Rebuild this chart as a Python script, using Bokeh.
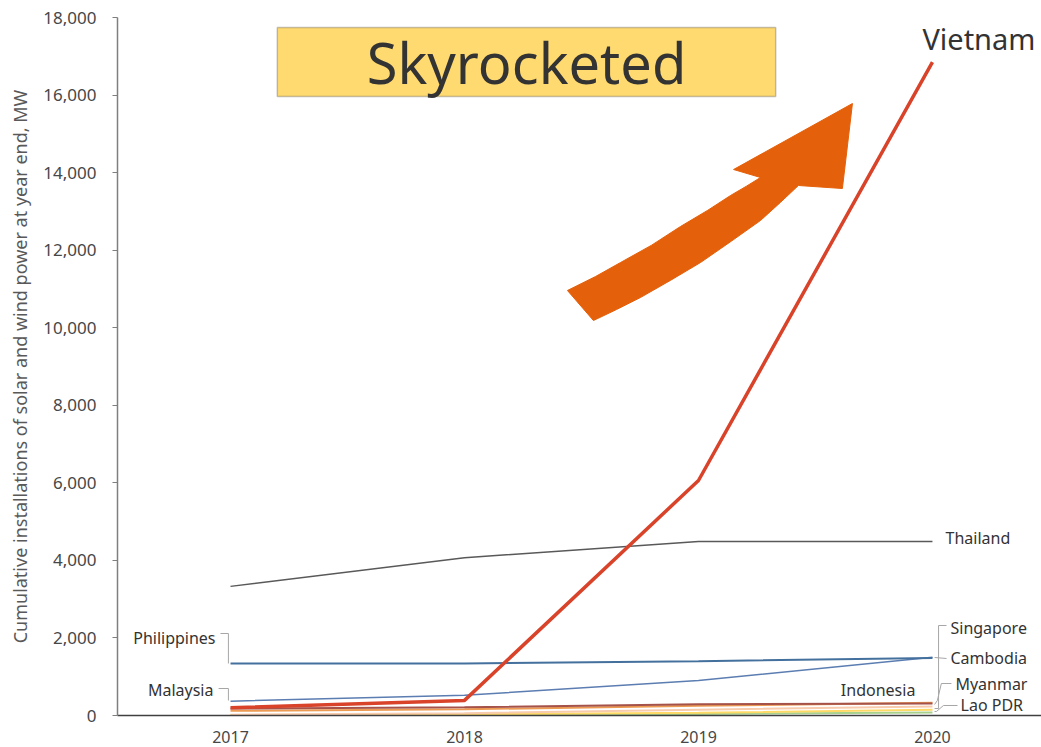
from bokeh.plotting import figure
from bokeh.models import Range1d, FixedTicker, NumeralTickFormatter, BoxAnnotation, Label, ColumnDataSource
from bokeh.core.properties import value
from bokeh.embed import file_html
from bokeh.resources import INLINE

# ---------------- data ----------------
years = [2017, 2018, 2019, 2020]
vietnam = [200, 390, 6060, 16850]
thailand = [3330, 4070, 4490, 4490]
philippines = [1340, 1340, 1400, 1480]
malaysia = [370, 520, 900, 1500]
indonesia = [180, 210, 290, 310]
singapore = [120, 160, 250, 330]
cambodia = [20, 60, 150, 230]
myanmar = [10, 30, 70, 150]
lao_pdr = [0, 10, 40, 80]

x_ticks = [2017, 2018, 2019, 2020]
y_ticks = [0, 2000, 4000, 6000, 8000, 10000, 12000, 14000, 16000, 18000]

# decorative arrow outline (data units)
arrow_x = [2018.440, 2018.560, 2018.667, 2018.800, 2018.923, 2019.040, 2019.137, 2019.205,
           2019.265, 2019.150, 2019.658, 2019.615, 2019.427, 2019.350, 2019.265, 2019.140,
           2019.009, 2018.880, 2018.752, 2018.650, 2018.551]
arrow_y = [10960, 11320, 11682, 12130, 12610, 13030, 13410, 13650,
           13874, 14080, 15782, 13590, 13668, 13230, 12765, 12230,
           11682, 11220, 10779, 10470, 10186]

# ---------------- figure ----------------
p = figure(width=1041, height=747, output_backend="svg", toolbar_location=None,
           x_range=Range1d(2016.517, 2020.466), y_range=Range1d(0, 18000),
           min_border_left=117, min_border_right=0, min_border_top=17, min_border_bottom=32)
p.outline_line_color = None
p.xgrid.visible = False
p.ygrid.visible = False
p.background_fill_color = "white"

FONT = "Noto Sans"
GREY = "#474747"

# y axis
p.yaxis.ticker = FixedTicker(ticks=y_ticks)
p.yaxis.formatter = NumeralTickFormatter(format="0,0")
p.yaxis.axis_line_color = "#7f7f7f"
p.yaxis.axis_line_width = 1.5
p.yaxis.major_tick_line_color = "#7f7f7f"
p.yaxis.major_tick_out = 5
p.yaxis.major_tick_in = 0
p.yaxis.minor_tick_line_color = None
p.yaxis.major_label_standoff = 16
p.yaxis.major_label_text_font = FONT
p.yaxis.major_label_text_font_size = "17px"
p.yaxis.major_label_text_color = GREY
p.yaxis.axis_label = "Cumulative installations of solar and wind power at year end, MW"
p.yaxis.axis_label_text_font = FONT
p.yaxis.axis_label_text_font_size = "18px"
p.yaxis.axis_label_text_font_style = "normal"
p.yaxis.axis_label_text_color = "#595959"
p.yaxis.axis_label_standoff = 8

# x axis
p.xaxis.ticker = FixedTicker(ticks=x_ticks)
p.xaxis.axis_line_color = "#404040"
p.xaxis.axis_line_width = 1.5
p.xaxis.major_tick_line_color = None
p.xaxis.minor_tick_line_color = None
p.xaxis.major_tick_out = 0
p.xaxis.major_tick_in = 0
p.xaxis.major_label_standoff = 15
p.xaxis.major_label_text_font = FONT
p.xaxis.major_label_text_font_size = "16px"
p.xaxis.major_label_text_color = GREY

# series (low ones first)
series = [
    (lao_pdr, "#A9D18E", 2),
    (myanmar, "#FFD966", 2),
    (cambodia, "#F8CBAD", 2),
    (singapore, "#ED9A52", 2),
    (indonesia, "#A5524A", 2),
    (malaysia, "#5B7DB1", 1.5),
    (philippines, "#44709D", 2),
    (thailand, "#595959", 1.5),
    (vietnam, "#D9432A", 3.5),
]
for vals, col, w in series:
    p.line(years, vals, line_color=col, line_width=w)

# arrow
p.patch(arrow_x, arrow_y, fill_color="#E5600A", line_color="#E5600A", line_width=1)

# title box
box = BoxAnnotation(left=2017.20, right=2019.33, bottom=15962, top=17741,
                    fill_color="#FFDA70", fill_alpha=1.0, line_color="#404040", line_width=1.5)
p.add_layout(box)
p.add_layout(Label(x=2018.265, y=16850, text="Skyrocketed", text_align="center",
                   text_baseline="middle", text_font=FONT, text_font_size="56px",
                   text_color="#333333"))
p.add_layout(Label(x=2019.957, y=17450, text="Vietnam", text_align="left",
                   text_baseline="middle", text_font=FONT, text_font_size="29px",
                   text_color="#333333"))

# leader lines
leaders_x = [
    [2016.957, 2016.991, 2016.991],
    [2016.949, 2016.991, 2016.991],
    [2020.060, 2020.026, 2020.026, 2020.009],
    [2020.060, 2020.009],
    [2020.081, 2020.038, 2020.021, 2020.009],
    [2020.107, 2020.047, 2020.017, 2020.009],
]
leaders_y = [
    [2115, 2115, 1341],
    [696, 696, 387],
    [2321, 2321, 180, 180],
    [1470, 1496],
    [825, 825, 387, 284],
    [258, 258, 103, 103],
]
p.multi_line(leaders_x, leaders_y, line_color="#A6A6A6", line_width=1)

# country labels
lab_left = ColumnDataSource(dict(
    x=[2020.056, 2020.077, 2020.077, 2020.098, 2020.120],
    y=[4590, 2244, 1470, 825, 258],
    t=["Thailand", "Singapore", "Cambodia", "Myanmar", "Lao PDR"]))
p.text(x="x", y="y", text="t", source=lab_left, text_align="left", text_baseline="middle",
       text_font=value(FONT), text_font_size="16px", text_color="#333333")
lab_right = ColumnDataSource(dict(
    x=[2016.936, 2016.927, 2019.927],
    y=[2011, 645, 645],
    t=["Philippines", "Malaysia", "Indonesia"]))
p.text(x="x", y="y", text="t", source=lab_right, text_align="right", text_baseline="middle",
       text_font=value(FONT), text_font_size="16px", text_color="#333333")

open("out.html", "w").write(file_html(p, INLINE))
